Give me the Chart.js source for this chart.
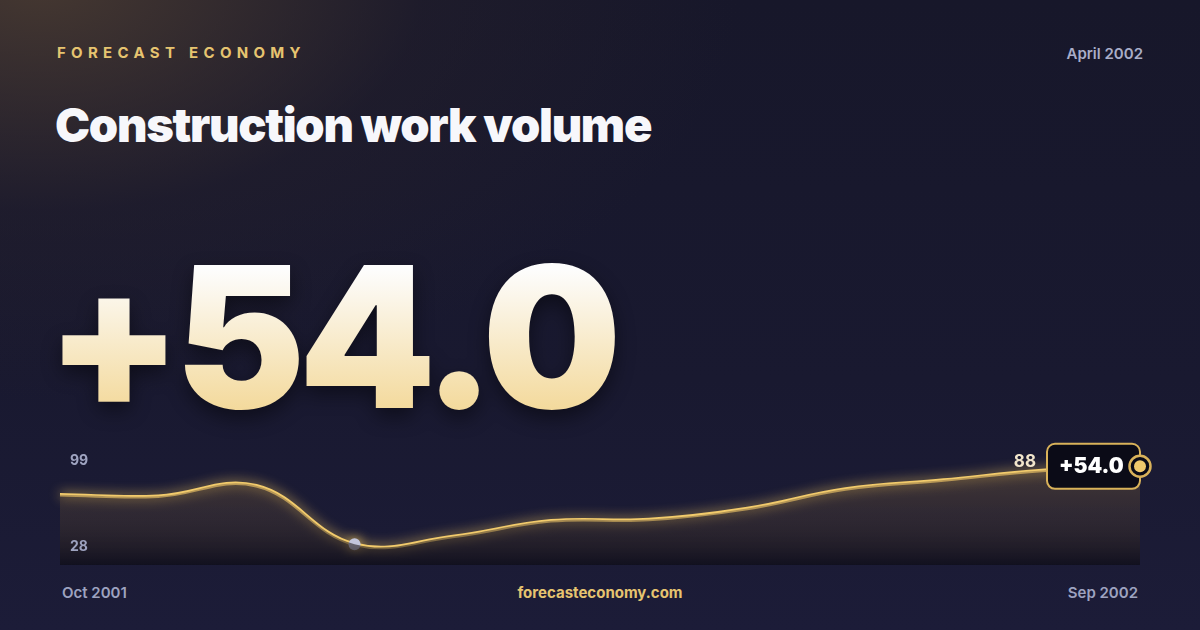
<!DOCTYPE html>
<html>
<head>
<meta charset="utf-8">
<script src="https://cdn.jsdelivr.net/npm/chart.js@4.4.1/dist/chart.umd.min.js"></script>
<style>
  html, body { margin: 0; padding: 0; }
  body {
    width: 1200px; height: 630px; overflow: hidden; position: relative;
    font-family: Inter, "Noto Sans", sans-serif;
    background:
      radial-gradient(ellipse 700px 420px at 40px -20px, rgba(78,62,50,0.85), rgba(40,34,44,0.4) 55%, rgba(0,0,0,0) 100%),
      linear-gradient(180deg, #17172a 0%, #191930 60%, #1c1c38 100%);
  }
  .brand { position: absolute; left: 57px; top: 43px; font-size: 15px; font-weight: 700; letter-spacing: 5.3px; color: #e6c470; }
  .date { position: absolute; right: 57px; top: 44px; font-size: 15px; font-weight: 600; color: #a9adc8; }
  .title { position: absolute; left: 55px; top: 96px; font-size: 47px; font-weight: 900; color: #f7f7fb; letter-spacing: -1.3px; }
  .big {
    position: absolute; left: 46px; top: 224px; font-size: 196px; font-weight: 900; letter-spacing: -7px; line-height: 1.15;
    background: linear-gradient(180deg, #fdfdfd 20%, #f3d898 85%);
    -webkit-background-clip: text; background-clip: text; color: transparent;
    filter: drop-shadow(0 8px 10px rgba(0,0,0,0.45));
  }
  .foot { position: absolute; top: 583px; font-size: 15px; font-weight: 600; color: #9ea3c0; }
  .site { position: absolute; top: 583px; left: 0; width: 1200px; text-align: center; font-size: 15px; font-weight: 700; color: #e6c470; }
  canvas { position: absolute; left: 0; top: 0; }
</style>
</head>
<body>
<div class="brand">FORECAST ECONOMY</div>
<div class="date">April 2002</div>
<div class="title">Construction work volume</div>
<div class="big">+54.0</div>
<div class="foot" style="left:62px">Oct 2001</div>
<div class="site">forecasteconomy.com</div>
<div class="foot" style="right:62px">Sep 2002</div>
<canvas id="grafica" width="1200" height="630"></canvas>
<script>
var meses = ['Oct 2001','Nov 2001','Dec 2001','Jan 2002','Feb 2002','Mar 2002','Apr 2002','May 2002','Jun 2002','Jul 2002','Aug 2002','Sep 2002']
var valores = [66, 65, 73, 28, 34, 46, 47, 55.5, 70.5, 77.4, 84.7, 88]
var ejeMin = 12
var ejeMax = 99
var cambio = '+54.0'

var minIdx = valores.indexOf(Math.min.apply(null, valores))
var lastIdx = valores.length - 1

// glow for the line dataset only
var glowPlugin = {
  id: 'glow',
  beforeDatasetDraw: function(chart, args) {
    if (args.index !== 1) return
    chart.ctx.save()
    chart.ctx.shadowColor = 'rgba(250,205,95,0.95)'
    chart.ctx.shadowBlur = 12
  },
  afterDatasetDraw: function(chart, args) {
    if (args.index !== 1) return
    chart.ctx.restore()
  }
}

var etiquetas = {
  id: 'etiquetas',
  afterDraw: function(chart) {
    var ctx = chart.ctx
    var y = chart.scales.y
    var pt = chart.getDatasetMeta(1).data[lastIdx]
    ctx.save()
    ctx.font = '700 14px Inter'
    ctx.fillStyle = '#9ea3c0'
    ctx.textAlign = 'left'
    ctx.textBaseline = 'middle'
    ctx.fillText(String(ejeMax), 70, y.getPixelForValue(ejeMax) + 9)
    ctx.fillText(String(valores[minIdx]), 70, y.getPixelForValue(valores[minIdx]) + 3)

    // badge
    var bw = 93, bh = 45
    var bx = pt.x - bw, by = pt.y - bh / 2
    ctx.beginPath()
    ctx.roundRect(bx, by, bw, bh, 8)
    ctx.fillStyle = '#0b0b17'
    ctx.fill()
    ctx.lineWidth = 2
    ctx.strokeStyle = '#d9b25a'
    ctx.stroke()
    ctx.font = '900 21px Inter'
    ctx.fillStyle = '#ffffff'
    ctx.textAlign = 'left'
    ctx.fillText(cambio, bx + 12, pt.y)

    ctx.font = '700 17px Inter'
    ctx.fillStyle = '#f2e6cc'
    ctx.textAlign = 'right'
    ctx.fillText(String(valores[lastIdx]), bx - 11, pt.y - 4)

    // end marker
    ctx.beginPath()
    ctx.arc(pt.x, pt.y, 10.5, 0, Math.PI * 2)
    ctx.fillStyle = '#0b0b17'
    ctx.fill()
    ctx.lineWidth = 2.5
    ctx.strokeStyle = '#d9b25a'
    ctx.stroke()
    ctx.beginPath()
    ctx.arc(pt.x, pt.y, 6, 0, Math.PI * 2)
    ctx.fillStyle = '#f0c96c'
    ctx.fill()
    ctx.restore()
  }
}

function relleno(context) {
  var area = context.chart.chartArea
  if (!area) return 'rgba(0,0,0,0)'
  var g = context.chart.ctx.createLinearGradient(0, area.top, 0, area.bottom)
  g.addColorStop(0, 'rgba(135,105,62,0.45)')
  g.addColorStop(0.55, 'rgba(78,62,50,0.4)')
  g.addColorStop(1, 'rgba(14,13,24,0.75)')
  return g
}

var ctx = document.getElementById('grafica').getContext('2d')
var grafica = new Chart(ctx, {
  type: 'line',
  data: {
    labels: meses,
    datasets: [
      {
        data: valores,
        fill: 'start',
        backgroundColor: relleno,
        borderWidth: 0,
        pointRadius: 0,
        tension: 0.4
      },
      {
        data: valores,
        fill: false,
        borderColor: '#f2cb6c',
        borderWidth: 3.5,
        tension: 0.4,
        clip: false,
        pointRadius: function(c) { return c.dataIndex === minIdx ? 6 : 0 },
        pointBackgroundColor: '#c3c6dd',
        pointBorderWidth: 0
      }
    ]
  },
  options: {
    responsive: false,
    animation: false,
    layout: { padding: { left: 60, right: 60, top: 452, bottom: 65 } },
    scales: {
      x: { display: false },
      y: { display: false, min: ejeMin, max: ejeMax }
    },
    plugins: {
      legend: { display: false },
      tooltip: { enabled: false }
    }
  },
  plugins: [glowPlugin, etiquetas]
})
</script>
</body>
</html>
